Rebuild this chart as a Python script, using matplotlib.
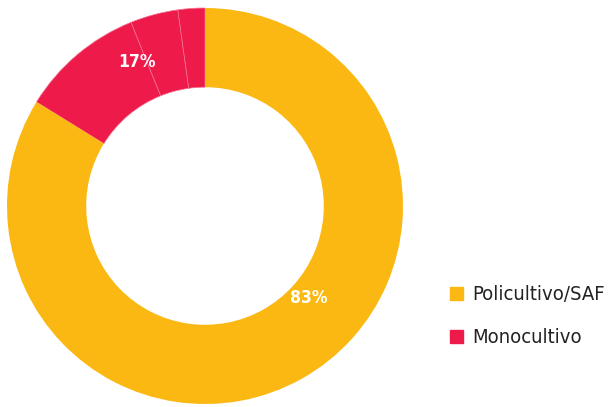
import matplotlib
matplotlib.use("Agg")
import matplotlib.pyplot as plt
import matplotlib.patches as mpatches

plt.rcParams["font.family"] = ["DejaVu Sans"]
plt.rcParams["font.stretch"] = "condensed"

# slices, drawn counter-clockwise from 12 o'clock
slice_values = [2.2, 3.9, 10.1, 83.8]
slice_groups = ["Monocultivo", "Monocultivo", "Monocultivo", "Policultivo/SAF"]
group_names = ["Policultivo/SAF", "Monocultivo"]
group_labels = ["83%", "17%"]
COLORS = {"Policultivo/SAF": "#FBB813", "Monocultivo": "#EE1A4A"}

fig = plt.figure(figsize=(6.11, 4.07), dpi=100)
ax = fig.add_axes([7 / 611, 3 / 407, 396 / 611, 396 / 407])
wedges, _ = ax.pie(slice_values, startangle=90, counterclock=True,
                   colors=[COLORS[g] for g in slice_groups],
                   wedgeprops=dict(width=0.4, linewidth=0))
# thin separators inside the red group
for w, g in zip(wedges, slice_groups):
    if g == "Monocultivo":
        w.set_edgecolor("#F4708F")
        w.set_linewidth(0.5)
ax.set_xlim(-1, 1); ax.set_ylim(-1, 1)
ax.set_aspect("equal")
ax.axis("off")

ax.text(0.525, -0.465, group_labels[0], color="white", fontsize=12.5,
        fontweight="bold", ha="center", va="center")
ax.text(-0.343, 0.727, group_labels[1], color="white", fontsize=12.5,
        fontweight="bold", ha="center", va="center")

handles = [mpatches.Patch(color=COLORS[g], label=g) for g in group_names]
fig.legend(handles=handles, loc="upper left", bbox_to_anchor=(432 / 611, 1 - 267 / 407),
           frameon=False, fontsize=14.5, handlelength=0.62, handleheight=0.62,
           handletextpad=0.5, labelspacing=1.2, labelcolor="#222222")

fig.savefig("out.png", dpi=100)
